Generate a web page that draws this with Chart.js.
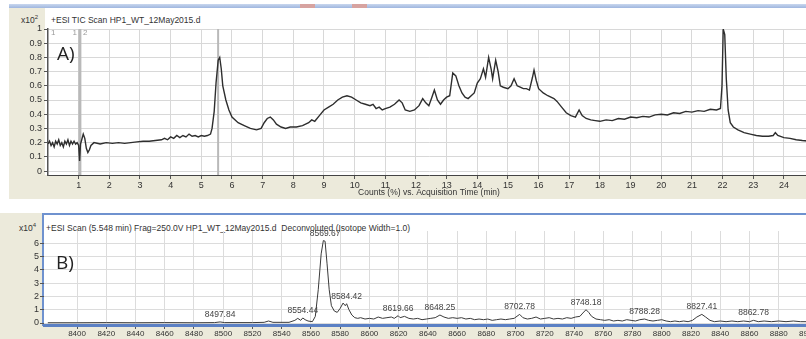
<!DOCTYPE html>
<html>
<head>
<meta charset="utf-8">
<script src="https://cdn.jsdelivr.net/npm/chart.js@4.4.1/dist/chart.umd.min.js"></script>
<style>
  html, body { margin: 0; padding: 0; background: #fff; }
  body { width: 806px; height: 339px; position: relative; overflow: hidden; font-family: 'Liberation Sans', Arial, sans-serif; color: #333; }
  .abs { position: absolute; }
  .beige { background: #eceadb; }
  .small { font-size: 8.5px; white-space: nowrap; color: #333; }
  .tag { font-family: 'Open Sans', sans-serif; font-size: 19px; color: #222; }
  canvas { position: absolute; left: 0; }
</style>
</head>
<body>
<!-- panel A frame -->
<div class="abs" style="left:9px;top:4px;width:797px;height:4px;background:linear-gradient(#c9d7ee,#9fb6df)"></div>
<div class="abs" style="left:300px;top:4px;width:15px;height:4px;background:#d7a3a0"></div>
<div class="abs" style="left:352px;top:4px;width:15px;height:4px;background:#d7a3a0"></div>
<div class="abs beige" style="left:9px;top:8px;width:797px;height:191px"></div>
<div class="abs" style="left:45px;top:8px;width:761px;height:167px;background:#fff"></div>
<div class="abs small" style="left:21px;top:14px">x10<sup style="font-size:6px">2</sup></div>
<div class="abs small" style="left:51px;top:15px">+ESI TIC Scan HP1_WT_12May2015.d</div>

<!-- panel B frame -->
<div class="abs beige" style="left:0;top:213px;width:806px;height:126px"></div>
<div class="abs" style="left:43px;top:215px;width:763px;height:110px;background:#fff"></div>
<div class="abs" style="left:42px;top:213px;width:764px;height:2px;background:#6f92cf"></div>
<div class="abs" style="left:42px;top:213px;width:2px;height:113px;background:#6f92cf"></div>
<div class="abs small" style="left:19px;top:222px">x10<sup style="font-size:6px">4</sup></div>
<div class="abs small" style="left:46px;top:223px">+ESI Scan (5.548 min) Frag=250.0V HP1_WT_12May2015.d&nbsp;&nbsp;Deconvoluted (Isotope Width=1.0)</div>

<canvas id="chartA" width="840" height="200" style="top:0"></canvas>
<canvas id="chartB" width="840" height="139" style="top:200px"></canvas>

<div class="abs tag" style="left:57px;top:40px">A)</div>
<div class="abs tag" style="left:56px;top:249px">B)</div>

<script>
// ---- Panel A: TIC, counts (x10^2) vs acquisition time (min)
const timeA = [
  0, 0.05, 0.1, 0.15, 0.2, 0.25, 0.3, 0.35, 0.4, 0.45, 0.5, 0.55, 0.6, 0.65, 0.7, 0.75, 0.8, 0.85, 0.9, 0.95,
  1.0, 1.03, 1.06, 1.1, 1.15, 1.2, 1.25, 1.3, 1.35, 1.4, 1.5, 1.7, 1.9, 2.1, 2.3, 2.5, 2.7, 2.9, 3.1, 3.3,
  3.5, 3.7, 3.8, 3.9, 4.0, 4.1, 4.2, 4.3, 4.4, 4.5, 4.6, 4.7, 4.8, 4.9, 5.0, 5.1, 5.2, 5.3, 5.35, 5.42,
  5.48, 5.55, 5.6, 5.65, 5.7, 5.8, 5.9, 6.0, 6.2, 6.4, 6.6, 6.8, 6.95, 7.05, 7.15, 7.25, 7.35, 7.45, 7.6, 7.75,
  7.9, 8.1, 8.3, 8.5, 8.6, 8.7, 8.85, 9.0, 9.15, 9.3, 9.45, 9.6, 9.75, 9.9, 10.05, 10.2, 10.35, 10.5, 10.6, 10.7,
  10.8, 10.9, 11.0, 11.15, 11.3, 11.45, 11.55, 11.65, 11.8, 11.95, 12.1, 12.22, 12.32, 12.42, 12.52, 12.6, 12.7, 12.8, 12.9, 13.0,
  13.1, 13.2, 13.3, 13.4, 13.5, 13.6, 13.7, 13.8, 13.9, 14.0, 14.1, 14.2, 14.27, 14.37, 14.45, 14.5, 14.6, 14.68, 14.75, 14.85,
  15.0, 15.1, 15.2, 15.3, 15.4, 15.5, 15.6, 15.7, 15.8, 15.85, 15.92, 16.0, 16.15, 16.3, 16.5, 16.6, 16.75, 16.9, 17.05, 17.2,
  17.32, 17.42, 17.55, 17.7, 17.85, 18.0, 18.2, 18.4, 18.6, 18.8, 19.0, 19.2, 19.4, 19.6, 19.8, 20.0, 20.2, 20.4, 20.6, 20.8,
  21.0, 21.2, 21.4, 21.6, 21.8, 21.93, 21.98, 22.02, 22.07, 22.12, 22.18, 22.25, 22.35, 22.5, 22.7, 22.9, 23.1, 23.3, 23.5, 23.65,
  23.72, 23.8, 24.0, 24.2, 24.4, 24.6, 24.85
]
const countsA = [
  0.19, 0.21, 0.18, 0.20, 0.17, 0.21, 0.19, 0.22, 0.18, 0.20, 0.17, 0.21, 0.19, 0.22, 0.18, 0.21, 0.19, 0.21, 0.19, 0.20,
  0.18, 0.07, 0.19, 0.22, 0.26, 0.23, 0.16, 0.13, 0.15, 0.18, 0.20, 0.19, 0.20, 0.195, 0.20, 0.195, 0.20, 0.205, 0.21, 0.21,
  0.215, 0.22, 0.23, 0.22, 0.24, 0.23, 0.25, 0.235, 0.25, 0.24, 0.26, 0.245, 0.25, 0.24, 0.25, 0.245, 0.25, 0.26, 0.30, 0.42,
  0.62, 0.78, 0.80, 0.72, 0.60, 0.50, 0.43, 0.38, 0.34, 0.32, 0.30, 0.29, 0.30, 0.34, 0.37, 0.38, 0.36, 0.33, 0.31, 0.30,
  0.31, 0.31, 0.32, 0.34, 0.36, 0.35, 0.39, 0.43, 0.45, 0.47, 0.50, 0.52, 0.53, 0.52, 0.50, 0.48, 0.47, 0.46, 0.47, 0.44,
  0.45, 0.43, 0.44, 0.45, 0.47, 0.50, 0.48, 0.43, 0.42, 0.43, 0.46, 0.51, 0.48, 0.46, 0.52, 0.57, 0.50, 0.47, 0.50, 0.52,
  0.53, 0.69, 0.67, 0.60, 0.55, 0.52, 0.51, 0.53, 0.55, 0.62, 0.65, 0.72, 0.66, 0.80, 0.72, 0.65, 0.78, 0.70, 0.60, 0.59,
  0.58, 0.60, 0.65, 0.60, 0.59, 0.58, 0.58, 0.57, 0.66, 0.71, 0.64, 0.58, 0.55, 0.53, 0.51, 0.49, 0.45, 0.41, 0.39, 0.38,
  0.43, 0.39, 0.37, 0.36, 0.355, 0.35, 0.36, 0.355, 0.37, 0.365, 0.38, 0.375, 0.385, 0.38, 0.395, 0.40, 0.395, 0.41, 0.405, 0.42,
  0.415, 0.425, 0.42, 0.435, 0.43, 0.44, 0.60, 1.00, 0.96, 0.65, 0.43, 0.34, 0.31, 0.29, 0.27, 0.26, 0.25, 0.245, 0.245, 0.25,
  0.27, 0.25, 0.235, 0.23, 0.22, 0.215, 0.21
]
const xTicksA = [1, 2, 3, 4, 5, 6, 7, 8, 9, 10, 11, 12, 13, 14, 15, 16, 17, 18, 19, 20, 21, 22, 23, 24]
const yTicksA = [0, 0.1, 0.2, 0.3, 0.4, 0.5, 0.6, 0.7, 0.8, 0.9, 1]
const yTickLabelsA = ['0', '0.1', '0.2', '0.3', '0.4', '0.5', '0.6', '0.7', '0.8', '0.9', '1']
const markerTimesA = [1.04, 5.548]

// ---- Panel B: deconvoluted spectrum, counts (x10^4) vs mass
const massB = [
  8380, 8400, 8420, 8440, 8460, 8480, 8494, 8497.84, 8501, 8520, 8528, 8531, 8534, 8545, 8549, 8551, 8553, 8554.44, 8556, 8558,
  8561, 8563, 8565, 8567, 8568.5, 8569.67, 8571, 8572.5, 8574, 8576, 8578, 8580, 8582, 8583.5, 8584.42, 8586, 8588, 8590, 8592, 8594,
  8597, 8600, 8603, 8606, 8609, 8612, 8615, 8617, 8619.66, 8621, 8624, 8627, 8630, 8633, 8636, 8639, 8642, 8645, 8648.25, 8651,
  8654, 8657, 8660, 8663, 8666, 8669, 8672, 8675, 8678, 8681, 8684, 8687, 8690, 8693, 8696, 8699, 8702.78, 8705, 8708, 8711,
  8714, 8717, 8720, 8723, 8726, 8729, 8732, 8735, 8738, 8741, 8744, 8746, 8748.18, 8750, 8752, 8755, 8758, 8761, 8764, 8767,
  8770, 8773, 8776, 8779, 8782, 8785, 8788.28, 8791, 8794, 8797, 8800, 8803, 8806, 8809, 8812, 8815, 8818, 8821, 8824, 8827.41,
  8830, 8833, 8836, 8840, 8844, 8848, 8852, 8856, 8860, 8862.78, 8866, 8870, 8875, 8880, 8885, 8890, 8895, 8902
]
const abundB = [
  0.02, 0.02, 0.03, 0.02, 0.03, 0.02, 0.03, 0.08, 0.03, 0.03, 0.05, 0.15, 0.05, 0.05, 0.2, 0.35, 0.2, 0.38, 0.25, 0.15,
  0.1, 0.5, 2.5, 5.2, 6.2, 6.15, 4.5, 2.5, 1.3, 0.9, 0.8, 1.1, 1.5, 1.3, 1.45, 1.0, 0.6, 0.4, 0.35, 0.4,
  0.3, 0.35, 0.3, 0.45, 0.35, 0.4, 0.45, 0.35, 0.55, 0.4, 0.5, 0.35, 0.3, 0.35, 0.25, 0.3, 0.35, 0.4, 0.6, 0.45,
  0.35, 0.4, 0.35, 0.4, 0.3, 0.35, 0.25, 0.3, 0.25, 0.3, 0.2, 0.25, 0.3, 0.25, 0.3, 0.35, 0.65, 0.4, 0.3, 0.35,
  0.45, 0.3, 0.35, 0.4, 0.3, 0.35, 0.3, 0.4, 0.35, 0.45, 0.5, 0.75, 1.0, 0.8, 0.5, 0.3, 0.25, 0.2, 0.25, 0.15,
  0.2, 0.15, 0.25, 0.2, 0.15, 0.25, 0.3, 0.2, 0.15, 0.2, 0.25, 0.15, 0.1, 0.15, 0.1, 0.15, 0.1, 0.2, 0.45, 0.65,
  0.45, 0.2, 0.1, 0.15, 0.1, 0.15, 0.1, 0.15, 0.1, 0.2, 0.1, 0.15, 0.1, 0.15, 0.1, 0.15, 0.1, 0.1
]
const peakMassB = [8497.84, 8554.44, 8569.67, 8584.42, 8619.66, 8648.25, 8702.78, 8748.18, 8788.28, 8827.41, 8862.78]
const xTicksB = [8400, 8420, 8440, 8460, 8480, 8500, 8520, 8540, 8560, 8580, 8600, 8620, 8640, 8660, 8680, 8700,
  8720, 8740, 8760, 8780, 8800, 8820, 8840, 8860, 8880, 8900]
const yTicksB = [0, 1, 2, 3, 4, 5, 6]

const tickFont = { family: 'Liberation Sans', size: 9 }

const markerPlugin = {
  id: 'markers',
  beforeDatasetsDraw(chart) {
    const { ctx, chartArea, scales: { x } } = chart
    ctx.save()
    ctx.strokeStyle = '#b9b9b9'
    markerTimesA.forEach((t, i) => {
      const px = x.getPixelForValue(t)
      ctx.lineWidth = i === 0 ? 3 : 2
      ctx.beginPath()
      ctx.moveTo(px, chartArea.top)
      ctx.lineTo(px, chartArea.bottom)
      ctx.stroke()
    })
    // range labels next to the first marker
    ctx.fillStyle = '#9a9a9a'
    ctx.font = '8px Liberation Sans'
    ctx.textBaseline = 'top'
    const m1 = x.getPixelForValue(markerTimesA[0])
    ctx.textAlign = 'left'
    ctx.fillText('1', chartArea.left + 3, chartArea.top)
    ctx.fillText('2', m1 + 3, chartArea.top)
    ctx.textAlign = 'right'
    ctx.fillText('1', m1 - 3, chartArea.top)
    ctx.restore()
  }
}

const peakLabelPlugin = {
  id: 'peakLabels',
  afterDatasetsDraw(chart) {
    const { ctx, scales: { x, y } } = chart
    ctx.save()
    ctx.fillStyle = '#444'
    ctx.font = '8.5px Liberation Sans'
    ctx.textAlign = 'center'
    ctx.textBaseline = 'bottom'
    peakMassB.forEach(m => {
      let idx = 0
      massB.forEach((v, i) => { if (Math.abs(v - m) < Math.abs(massB[idx] - m)) idx = i })
      const px = x.getPixelForValue(m)
      const py = y.getPixelForValue(abundB[idx])
      ctx.fillText(m.toFixed(2), px, py - 3)
    })
    ctx.restore()
  }
}

new Chart(document.getElementById('chartA'), {
  type: 'line',
  data: {
    datasets: [{
      data: timeA.map((t, i) => ({ x: t, y: countsA[i] })),
      borderColor: '#2e2e2e',
      borderWidth: 1.4,
      pointRadius: 0,
      tension: 0
    }]
  },
  options: {
    responsive: false,
    animation: false,
    events: [],
    layout: { padding: { left: 0, right: 30, top: 29, bottom: 0 } },
    plugins: { legend: { display: false }, tooltip: { enabled: false } },
    scales: {
      x: {
        type: 'linear',
        min: 0,
        max: 24.85,
        afterBuildTicks: s => { s.ticks = xTicksA.map(v => ({ value: v })) },
        afterFit: s => { s.height = 25 },
        grid: { color: '#d8d8d8', tickColor: '#555', tickLength: 4 },
        border: { color: '#444', width: 1 },
        ticks: { font: tickFont, color: '#333', padding: 1, maxRotation: 0, autoSkip: false, callback: v => String(v) },
        title: {
          display: true,
          text: 'Counts (%) vs. Acquisition Time (min)',
          font: { family: 'Liberation Sans', size: 8.5 },
          color: '#333',
          padding: { top: 0, bottom: 2 }
        }
      },
      y: {
        min: -0.028,
        max: 1,
        afterBuildTicks: s => { s.ticks = yTicksA.map(v => ({ value: v })) },
        afterFit: s => { s.width = 48 },
        grid: { color: '#d8d8d8', tickColor: '#555', tickLength: 4 },
        border: { color: '#555', width: 1.5 },
        ticks: { font: tickFont, color: '#333', padding: 2, callback: (v, i) => yTickLabelsA[i] }
      }
    }
  },
  plugins: [markerPlugin]
})

new Chart(document.getElementById('chartB'), {
  type: 'line',
  data: {
    datasets: [{
      data: massB.map((m, i) => ({ x: m, y: abundB[i] })),
      borderColor: '#3a3a3a',
      borderWidth: 1,
      pointRadius: 0,
      tension: 0
    }]
  },
  options: {
    responsive: false,
    animation: false,
    events: [],
    layout: { padding: { left: 0, right: 30, top: 31, bottom: 0 } },
    plugins: { legend: { display: false }, tooltip: { enabled: false } },
    scales: {
      x: {
        type: 'linear',
        min: 8377.4,
        max: 8901.4,
        afterBuildTicks: s => { s.ticks = xTicksB.map(v => ({ value: v })) },
        afterFit: s => { s.height = 14 },
        grid: { color: '#dcdcdc', tickColor: '#555', tickLength: 4 },
        border: { color: '#5b80c4', width: 3 },
        ticks: { font: { family: 'Liberation Sans', size: 8 }, color: '#333', padding: 0, maxRotation: 0, autoSkip: false, callback: v => String(v) }
      },
      y: {
        min: -0.15,
        max: 6.92,
        afterBuildTicks: s => { s.ticks = yTicksB.map(v => ({ value: v })) },
        afterFit: s => { s.width = 44 },
        grid: { color: '#dcdcdc', tickColor: '#555', tickLength: 4 },
        border: { display: false },
        ticks: { font: tickFont, color: '#333', padding: 1, callback: v => String(v) }
      }
    }
  },
  plugins: [peakLabelPlugin]
})
</script>
</body>
</html>
